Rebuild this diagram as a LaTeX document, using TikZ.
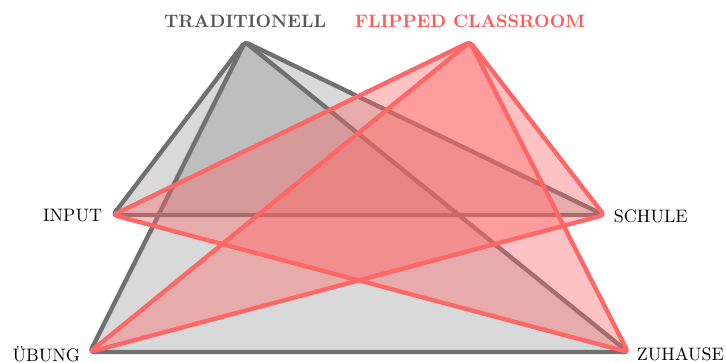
\documentclass[tikz,border=0pt]{standalone}
\begin{document}
\begin{tikzpicture}[x=0.555pt,y=-0.555pt,
  grayline/.style={draw=black!56,line width=2.4pt,line join=round,rounded corners=2pt},
  redline/.style={draw=red!60,line width=2.4pt,line join=round,rounded corners=2pt},
  grayfill/.style={fill=gray,fill opacity=0.3,rounded corners=2pt},
  redfill/.style={fill=red!60,fill opacity=0.4,rounded corners=2pt},
  lbl/.style={font=\normalsize,inner sep=2pt}]
\useasboundingbox (0,0) rectangle (726,363);
\coordinate (T) at (245,42);
\coordinate (F) at (470,42);
\coordinate (I) at (113,215);
\coordinate (S) at (604,215);
\coordinate (U) at (90,352);
\coordinate (Z) at (628,352);
% traditional
\path[grayfill] (T) -- (I) -- (S) -- cycle;
\path[grayfill] (T) -- (U) -- (Z) -- cycle;
\draw[grayline] (T) -- (I) -- (S) -- cycle;
\draw[grayline] (T) -- (U) -- (Z) -- cycle;
% flipped
\path[redfill] (F) -- (I) -- (Z) -- cycle;
\path[redfill] (F) -- (U) -- (S) -- cycle;
\draw[redline] (F) -- (I) -- (Z) -- cycle;
\draw[redline] (F) -- (U) -- (S) -- cycle;
% labels
\node[lbl,anchor=south,text=black!65,font=\bfseries] (tl) at (245,32) {TRADITIONELL};
\node[lbl,anchor=south,text=red!65,font=\bfseries] (fl) at (470,32) {FLIPPED CLASSROOM};
\node[lbl,anchor=east] (il) at (106,216) {INPUT};
\node[lbl,anchor=west] (sl) at (610,216) {SCHULE};
\node[lbl,anchor=east] (ul) at (84,354) {ÜBUNG};
\node[lbl,anchor=west] (zl) at (633,354) {ZUHAUSE};
\end{tikzpicture}
\end{document}
